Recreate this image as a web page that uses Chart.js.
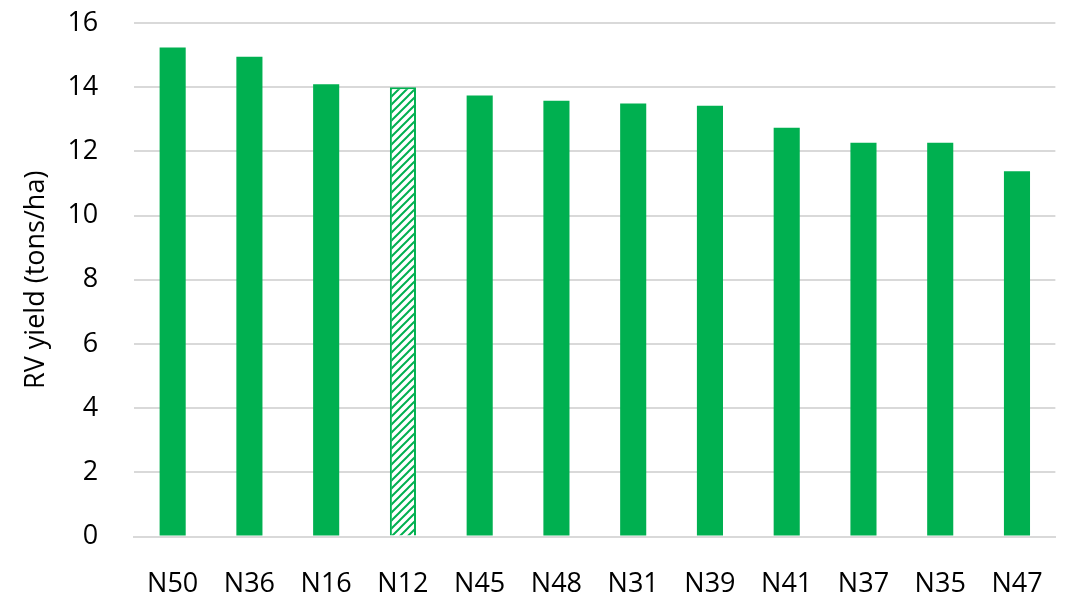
<!DOCTYPE html>
<html>
<head>
  <meta charset="UTF-8">
  <title>RV yield</title>
  <script src="https://cdn.jsdelivr.net/npm/chart.js"></script>
  <style>
    body { margin: 0; background: #fff; }
    #wrap { width: 1067px; height: 602px; }
  </style>
</head>
<body>
  <div id="wrap"><canvas id="yieldChart" width="1067" height="602"></canvas></div>
  <script>
    const categories = ['N50', 'N36', 'N16', 'N12', 'N45', 'N48', 'N31', 'N39', 'N41', 'N37', 'N35', 'N47'];
    const yieldValues = [15.24, 14.95, 14.09, 14.0, 13.74, 13.58, 13.49, 13.42, 12.74, 12.27, 12.27, 11.38];
    const hatchedCategory = 'N12';

    const green = '#00b050';
    const font = { family: 'Open Sans', size: 27 };

    // hatch pattern for the highlighted bar
    function makeHatch() {
      const c = document.createElement('canvas');
      c.width = 8; c.height = 8;
      const g = c.getContext('2d');
      g.fillStyle = '#fff';
      g.fillRect(0, 0, 8, 8);
      g.strokeStyle = green;
      g.lineWidth = 2;
      g.beginPath();
      g.moveTo(0, 8); g.lineTo(8, 0);
      g.moveTo(-2, 2); g.lineTo(2, -2);
      g.moveTo(6, 10); g.lineTo(10, 6);
      g.stroke();
      return g.createPattern(c, 'repeat');
    }
    const hatch = makeHatch();

    const ctx = document.getElementById('yieldChart').getContext('2d');
    new Chart(ctx, {
      type: 'bar',
      data: {
        labels: categories,
        datasets: [{
          data: yieldValues,
          backgroundColor: categories.map(c => c === hatchedCategory ? hatch : green),
          borderColor: green,
          borderWidth: categories.map(c => c === hatchedCategory ? 2 : 0),
          barPercentage: 0.34,
          categoryPercentage: 1
        }]
      },
      options: {
        responsive: false,
        animation: false,
        layout: { padding: { left: 20, right: 10, top: 23, bottom: -23 } },
        plugins: { legend: { display: false }, tooltip: { enabled: false } },
        scales: {
          x: {
            grid: { display: false },
            border: { color: '#d9d9d9', width: 2 },
            ticks: { color: '#000', font: font, padding: 24, maxRotation: 0 }
          },
          y: {
            min: 0,
            max: 16,
            ticks: { stepSize: 2, color: '#000', font: font, padding: 4 },
            // transparent tick marks leave the gap between labels and plot
            grid: { color: '#d9d9d9', lineWidth: 2, drawTicks: true, tickLength: 32, tickColor: 'rgba(0,0,0,0)' },
            border: { display: false },
            title: { display: true, text: 'RV yield (tons/ha)', color: '#000', font: font, padding: { top: 0, bottom: 11 } }
          }
        }
      }
    });
  </script>
</body>
</html>
